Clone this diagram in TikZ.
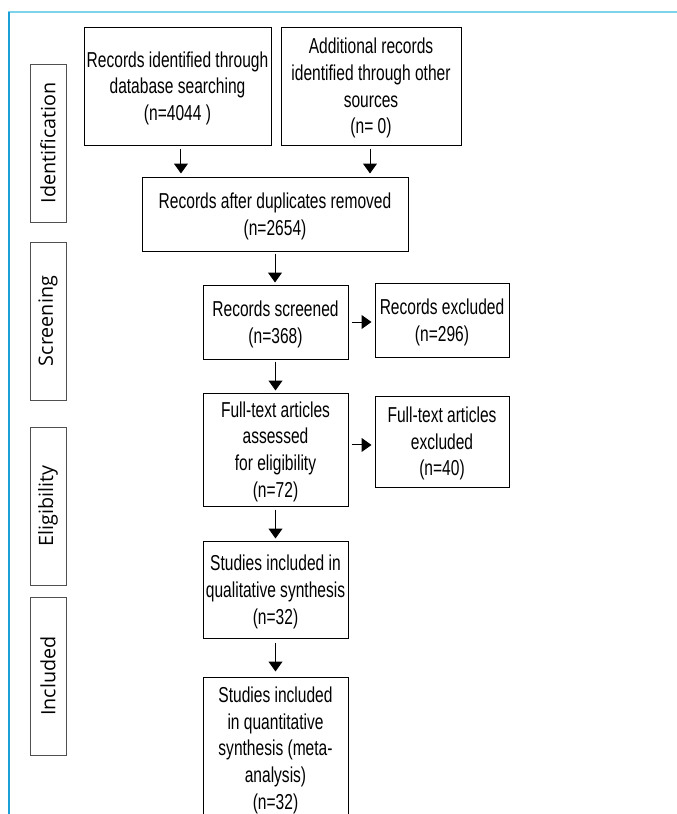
\documentclass[tikz,border=0pt]{standalone}
\usepackage{fontspec}
\setmainfont{Liberation Sans}[FakeStretch=0.72]
\newfontfamily\sidefont{Open Sans}
\usetikzlibrary{arrows.meta}

\tikzset{every picture/.style={line width=0.75pt}}
\tikzset{
  dims/.style 2 args={minimum width=#1*0.75pt, minimum height=#2*0.75pt},
  flowbox/.style={draw=black, inner sep=0pt, align=center, text depth=-2.5pt, font=\fontsize{16.2}{20}\selectfont},
  phasebox/.style={draw={rgb,255:red,80;green,80;blue,80}, inner sep=0pt, rotate=90, font=\sidefont\fontsize{14.8}{15}\selectfont},
  flowarrow/.style={-{Triangle[width=10.5pt,length=7.5pt]}, line width=0.75pt},
}

\begin{document}
\begin{tikzpicture}[x=0.75pt,y=0.75pt,yscale=-1,xscale=1]
\useasboundingbox (0,0) rectangle (677,814);

%Frame lines
\draw [color={rgb, 255:red, 125; green, 211; blue, 234 }, line width=1.5pt] (8,12) -- (677,12) ;
\draw [color={rgb, 255:red, 26; green, 159; blue, 214 }, line width=0.9pt] (9,12) -- (9,814) ;

%Shape: Rectangle [phases]
\node [phasebox, dims={158}{36}] (ident) at (48,143) {Identification};
\node [phasebox, dims={158}{36}] (screen) at (48,321) {Screening};
\node [phasebox, dims={158}{36}] (elig) at (48,506) {Eligibility};
\node [phasebox, dims={158}{36}] (incl) at (48,676) {Included};

% Text Node
\node [flowbox, dims={187}{118}] (dbrec) at (177.5,86) {Records identified through\\database searching\\(n=4044 )};
% Text Node
\node [flowbox, dims={180}{118}] (otherrec) at (371,86) {Additional records\\identified through other\\sources\\(n= 0)};
% Text Node
\node [flowbox, dims={266}{74}] (dedup) at (275,214) {Records after duplicates removed\\(n=2654)};
% Text Node
\node [flowbox, dims={145}{74}] (screened) at (275.5,322) {Records screened\\(n=368)};
% Text Node
\node [flowbox, dims={134}{74}] (excl) at (442,320) {Records excluded\\(n=296)};
% Text Node
\node [flowbox, dims={145}{113}] (fulltext) at (275.5,449.5) {Full-text articles\\assessed\\for eligibility\\(n=72)};
% Text Node
\node [flowbox, dims={134}{91}] (ftexcl) at (442,441.5) {Full-text articles\\excluded\\(n=40)};
% Text Node
\node [flowbox, dims={145}{97}] (qual) at (275.5,589.5) {Studies included in\\qualitative synthesis\\(n=32)};
% Text Node
\node [flowbox, dims={145}{142}] (quant) at (275.5,748) {Studies included\\in quantitative\\synthesis (meta-\\analysis)\\(n=32)};

%Straight Lines [arrows]
\draw [flowarrow, shorten <=2.25pt, shorten >=2.25pt] ([xshift=2.6pt]dbrec.south) -- ([xshift=2.6pt]dbrec.south |- dedup.north) ;
\draw [flowarrow, shorten <=2.25pt, shorten >=2.25pt] ([xshift=-0.75pt]otherrec.south) -- ([xshift=-0.75pt]otherrec.south |- dedup.north) ;
\draw [flowarrow, shorten <=1.5pt, shorten >=1.5pt] (dedup.south) -- (dedup.south |- screened.north) ;
\draw [flowarrow, shorten <=2.25pt, shorten >=2.25pt] (screened.east) -- (screened.east -| excl.west) ;
\draw [flowarrow, shorten <=1.5pt, shorten >=1.5pt] (screened.south) -- (fulltext.north) ;
\draw [flowarrow, shorten <=2.25pt, shorten >=2.25pt] ([yshift=2.6pt]fulltext.east |- ftexcl.west) -- ([yshift=2.6pt]ftexcl.west) ;
\draw [flowarrow, shorten <=2.25pt, shorten >=1.5pt] (fulltext.south) -- (qual.north) ;
\draw [flowarrow, shorten <=3pt, shorten >=3.75pt] (qual.south) -- (quant.north) ;

\end{tikzpicture}
\end{document}
